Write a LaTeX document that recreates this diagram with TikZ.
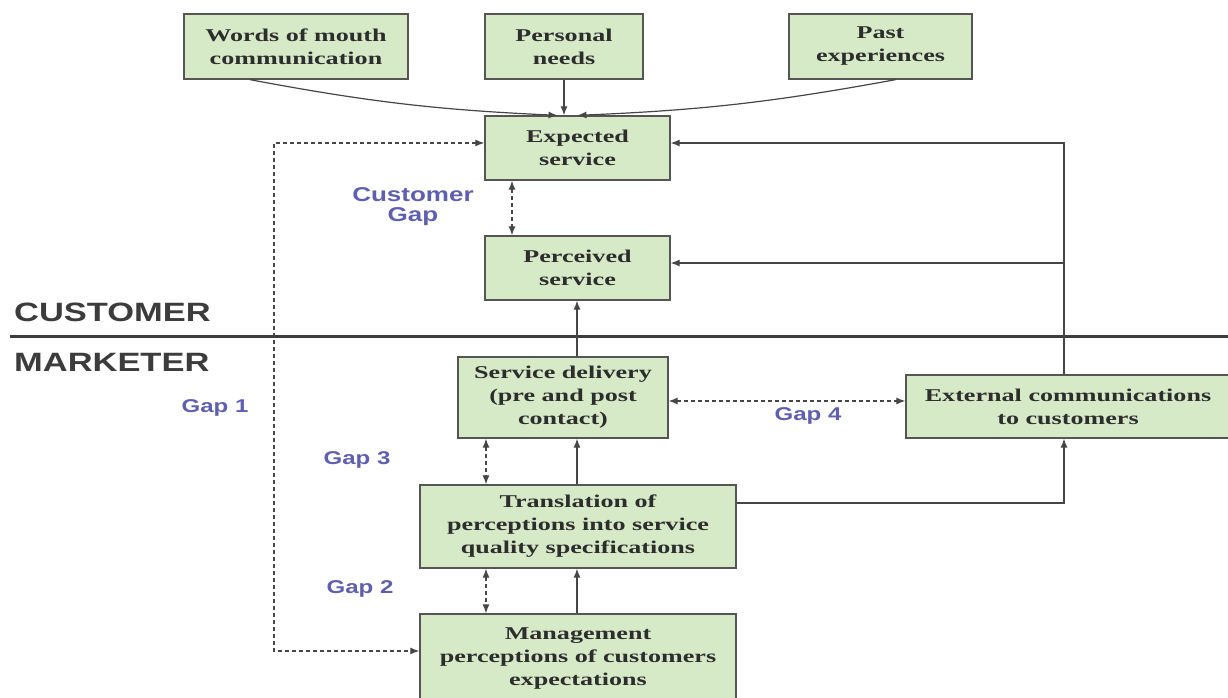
\documentclass[tikz,border=0pt]{standalone}
\usepackage{fontspec}
\setmainfont{Liberation Serif}[FakeStretch=1.45]
\newfontfamily\lblfont{Liberation Sans}[FakeStretch=1.3]
\usetikzlibrary{arrows.meta,calc}
\definecolor{boxfill}{RGB}{214,234,200}
\definecolor{boxline}{RGB}{85,85,85}
\definecolor{linec}{RGB}{70,70,70}
\definecolor{textc}{RGB}{45,45,45}
\definecolor{gapc}{RGB}{95,95,175}
\definecolor{sidec}{RGB}{60,60,60}
\begin{document}
\begin{tikzpicture}[x=1pt,y=-1pt,
  box/.style={draw=boxline, fill=boxfill, line width=1.3pt, align=center, inner sep=0pt,
    text=textc, font=\fontsize{18}{23}\selectfont\bfseries},
  tip/.style={},
  conn/.style={draw=linec, line width=1.2pt},
  arr/.style={conn, -{Latex[length=9pt,width=7pt]}},
  dbl/.style={conn, dash pattern=on 4pt off 3pt, {Latex[length=9pt,width=7pt]}-{Latex[length=9pt,width=7pt]}},
  gaplbl/.style={text=gapc, align=center, inner sep=0pt, font=\lblfont\fontsize{18.5}{20}\selectfont\bfseries},
  sidelbl/.style={text=sidec, anchor=west, inner sep=0pt, font=\lblfont\fontsize{26.5}{28}\selectfont\bfseries}
]
\fill[white] (0,0) rectangle (1228,697);
\useasboundingbox (0,0) rectangle (1228,697);

% boxes
\node[box, minimum width=224pt, minimum height=65pt] (wom) at (296,46.5) {Words of mouth\\communication};
\node[box, minimum width=158pt, minimum height=65pt] (pn) at (564,46.5) {Personal\\needs};
\node[box, minimum width=183pt, minimum height=65pt] (pe) at (880.5,46.5) {Past\\experiences};
\node[box, minimum width=185pt, minimum height=64pt] (es) at (577.5,148) {Expected\\service};
\node[box, minimum width=185pt, minimum height=64pt] (ps) at (577.5,268) {Perceived\\service};
\node[box, minimum width=210pt, minimum height=81pt] (sd) at (563,397.5) {Service delivery\\(pre and post\\contact)};
\node[box, minimum width=324pt, minimum height=63pt] (ext) at (1068,406.5) {External communications\\to customers};
\node[box, minimum width=316pt, minimum height=83pt] (tr) at (578,526.5) {Translation of\\perceptions into service\\quality specifications};
\node[box, minimum width=316pt, minimum height=90pt] (mg) at (578,659) {Management\\perceptions of customers\\expectations};

% side labels and divider
\node[sidelbl] (cust) at (14,312) {CUSTOMER};
\node[sidelbl] (mark) at (14,362) {MARKETER};
\coordinate (dl) at (10,336);
\coordinate (dr) at (1228,336);
\draw[draw=sidec, line width=3pt] (dl) -- (dr);

% gap labels
\node[gaplbl, font=\lblfont\fontsize{20}{20}\selectfont\bfseries] (cg) at (413,207) {Customer\\Gap};
\node[gaplbl] (g1) at (215,408) {Gap 1};
\node[gaplbl] (g3) at (357,460) {Gap 3};
\node[gaplbl] (g2) at (360,589) {Gap 2};
\node[gaplbl] (g4l) at (808,416) {Gap 4};

% helper coordinates
\coordinate (lx) at (274,0);
\coordinate (rx) at (1064,0);
\coordinate (gx) at (512,0);
\coordinate (gy) at (486,0);
\coordinate (cx) at (577,0);
\coordinate (g4) at (0,401);
\coordinate (ey) at (0,143);
\coordinate (py) at (0,263);
\coordinate (my) at (0,651);
\coordinate (ty) at (0,503);

% inputs to expected service
\draw[arr] ($(wom.south)+(-46,0)$) to[bend right=4] ($(es.north)+(-20,0)$);
\draw[arr] (pn.south) -- (pn.south |- es.north);
\draw[arr] ($(pe.south)+(15,0)$) to[bend left=4] ($(es.north)+(0,0)$);

% customer gap
\draw[dbl] (gx |- es.south) -- (gx |- ps.north);

% gap 1 dashed loop
\draw[dbl] (es.west |- ey) -- (lx |- ey) -- (lx |- my) -- (mg.west |- my);

% vertical chain
\draw[arr] (cx |- sd.north) -- (cx |- ps.south);
\draw[arr] (cx |- tr.north) -- (cx |- sd.south);
\draw[arr] (cx |- mg.north) -- (cx |- tr.south);

% gap 3 and gap 2
\draw[dbl] (gy |- sd.south) -- (gy |- tr.north);
\draw[dbl] (gy |- tr.south) -- (gy |- mg.north);

% gap 4
\draw[dbl] (sd.east |- g4) -- (ext.west |- g4);

% external communications feedback
\draw[arr] (rx |- ext.north) |- (es.east |- ey);
\draw[arr] (rx |- py) -- (ps.east |- py);
\draw[arr] (tr.east |- ty) -| (rx |- ext.south);
\end{tikzpicture}
\end{document}
